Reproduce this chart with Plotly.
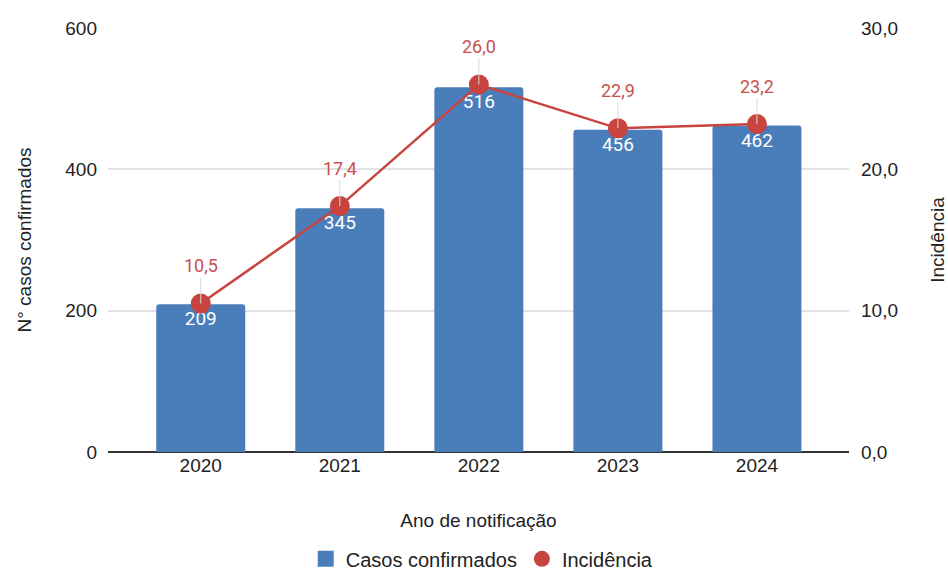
import plotly.graph_objects as go

# Casos confirmados e incidência por ano de notificação
anos = ["2020", "2021", "2022", "2023", "2024"]
casos = [209, 345, 516, 456, 462]
incidencia = [10.5, 17.4, 26.0, 22.9, 23.2]

left_ticks = [0, 200, 400, 600]
right_ticks = [0, 10, 20, 30]

BAR = "#4a7ebb"
RED = "#c8443f"
RED_TXT = "#c9504c"
FONT = "Liberation Sans, Arial, sans-serif"
LABEL_FONT = "Roboto, Arial, sans-serif"

fig = go.Figure()

fig.add_trace(go.Bar(
    x=anos, y=casos, name="Casos confirmados",
    marker=dict(color=BAR, cornerradius=3, line=dict(width=0)),
    width=0.64,
    text=[str(v) for v in casos],
    textposition="inside", insidetextanchor="end",
    textfont=dict(color="white", size=19, family=LABEL_FONT),
    showlegend=False,
))

fig.add_trace(go.Scatter(
    x=anos, y=incidencia, yaxis="y2", name="Incidência",
    mode="lines+markers",
    line=dict(color=RED, width=2.5),
    marker=dict(color=RED, size=20),
    showlegend=False,
))

# Entradas da legenda: quadrado azul e círculo vermelho
fig.add_trace(go.Scatter(
    x=[None], y=[None], name="Casos confirmados",
    mode="markers", marker=dict(color=BAR, size=17, symbol="square"),
    showlegend=True,
))
fig.add_trace(go.Scatter(
    x=[None], y=[None], yaxis="y2", name="Incidência",
    mode="markers", marker=dict(color=RED, size=19, symbol="circle"),
    showlegend=True,
))

# Rótulos de incidência acima de cada ponto
for i, v in enumerate(incidencia):
    fig.add_annotation(
        x=i, y=v, xref="x", yref="y2", text=f"{v:.1f}".replace(".", ","),
        showarrow=True, arrowhead=0, arrowwidth=1, arrowcolor="#d9d9d9",
        ax=0, ay=-38, standoff=0,
        font=dict(color=RED_TXT, size=18, family=LABEL_FONT),
    )

fig.update_layout(
    width=948, height=570,
    margin=dict(l=108, r=99, t=28, b=118, autoexpand=False),
    paper_bgcolor="white", plot_bgcolor="white",
    font=dict(family=FONT, size=19, color="#222222"),
    separators=",.",
    xaxis=dict(
        type="category", range=[-0.667, 4.662], automargin=False,
        showgrid=False, ticks="", showline=False,
        tickfont=dict(size=19, color="#222222"),
        title=dict(text="Ano de notificação", font=dict(size=19), standoff=38),
    ),
    yaxis=dict(
        range=[0, 600], tickvals=left_ticks, automargin=False,
        showgrid=True, gridcolor="#e2e2e2", gridwidth=1.5,
        zeroline=True, zerolinecolor="#333333", zerolinewidth=1.5,
        showline=False, ticks="", ticklabelstandoff=10,
        tickfont=dict(size=19, color="#222222"),
        title=dict(text="N° casos confirmados", font=dict(size=19), standoff=28),
    ),
    yaxis2=dict(
        range=[0, 30], tickvals=right_ticks, tickformat=".1f", automargin=False,
        overlaying="y", side="right",
        showgrid=False, zeroline=False, showline=False, ticks="",
        ticklabelstandoff=11,
        tickfont=dict(size=19, color="#222222"),
        title=dict(text="Incidência", font=dict(size=19), standoff=34),
    ),
    legend=dict(
        orientation="h", x=0.505, xanchor="center", y=-0.252, yanchor="middle",
        font=dict(size=20), itemsizing="trace",
    ),
)

fig.write_html("out.html")
